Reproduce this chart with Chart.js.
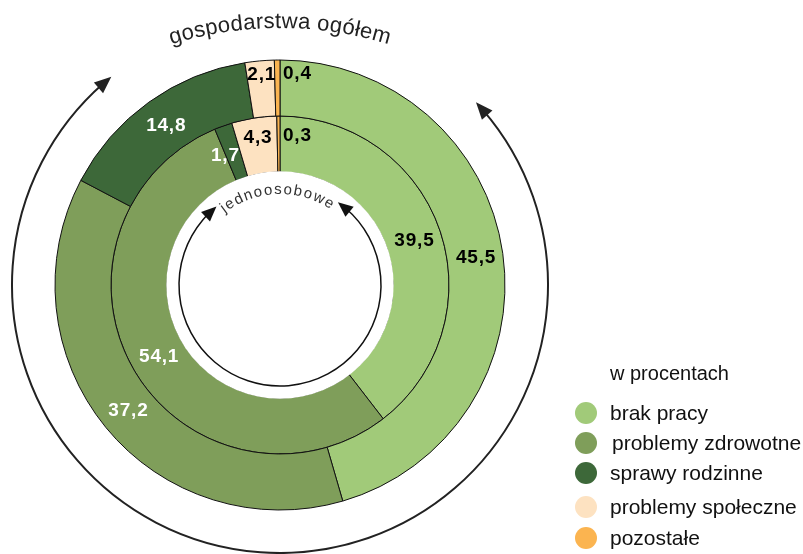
<!DOCTYPE html>
<html><head><meta charset="utf-8">
<script src="https://cdn.jsdelivr.net/npm/chart.js@4/dist/chart.umd.min.js"></script>
<style>html,body{margin:0;padding:0;background:#fff;overflow:hidden}</style>
</head><body><canvas id="c" width="803" height="554"></canvas>
<script>
// ---- data ----
const categories = ['brak pracy', 'problemy zdrowotne', 'sprawy rodzinne', 'problemy społeczne', 'pozostałe'];
const ogolemValues = [45.5, 37.2, 14.8, 2.1, 0.4];
const jednoosoboweValues = [39.5, 54.1, 1.7, 4.3, 0.3];
const seriesNames = ['gospodarstwa ogółem', 'jednoosobowe'];
const legendTitle = 'w procentach';

// ---- styles ----
const colors = ['#A1CA79', '#7F9E5A', '#3D6839', '#FDE2C1', '#FBB450'];
const labelColors = ['#000', '#fff', '#fff', '#000', '#000'];
const FONT = '"Liberation Sans", Arial, Helvetica, sans-serif';
const fmt = v => v.toFixed(1).replace('.', ',');
// radial nudges for small slices (px), 'side' = label placed beside the slice
const labelTweaks = { '0-3': { dr: 15 }, '0-4': { dr: 15, side: true }, '1-3': { dr: 9 }, '1-4': { dr: 9, side: true }, '1-2': { dr: 1, da: -0.06 } };

function curvedText(ctx, text, cx, cy, r, mid, font, spacing, color) {
  ctx.save();
  ctx.font = font; ctx.fillStyle = color; ctx.textAlign = 'center'; ctx.textBaseline = 'alphabetic';
  const chars = [...text];
  const w = chars.map(ch => ctx.measureText(ch).width);
  const total = w.reduce((a, b) => a + b, 0) + spacing * (chars.length - 1);
  let a = mid - total / 2 / r;
  chars.forEach((ch, i) => {
    const ac = a + w[i] / 2 / r;
    ctx.save();
    ctx.translate(cx + r * Math.sin(ac), cy - r * Math.cos(ac));
    ctx.rotate(ac);
    ctx.fillText(ch, 0, 0);
    ctx.restore();
    a += (w[i] + spacing) / r;
  });
  ctx.restore();
}

function arrowArc(ctx, cx, cy, r, a1, a2, lw, len, half, color) {
  // angles measured from top, clockwise (radians); arc goes clockwise from a1 to a2 (through bottom)
  ctx.save();
  ctx.strokeStyle = color; ctx.fillStyle = color; ctx.lineWidth = lw;
  const da = len / r;
  ctx.beginPath();
  ctx.arc(cx, cy, r, a1 + da * 0.6 - Math.PI / 2, a2 - da * 0.6 - Math.PI / 2, false);
  ctx.stroke();
  const head = (tipA, baseA) => {
    const tx = cx + r * Math.sin(tipA), ty = cy - r * Math.cos(tipA);
    const bx = cx + r * Math.sin(baseA), by = cy - r * Math.cos(baseA);
    const dx = tx - bx, dy = ty - by, L = Math.hypot(dx, dy);
    const ux = dx / L, uy = dy / L;
    const sx = bx - ux * (len - L), sy = by - uy * (len - L);
    ctx.beginPath();
    ctx.moveTo(tx, ty);
    ctx.lineTo(sx - uy * half, sy + ux * half);
    ctx.lineTo(sx + uy * half, sy - ux * half);
    ctx.closePath();
    ctx.fill();
  };
  head(a1, a1 + da);
  head(a2, a2 - da);
  ctx.restore();
}

const deg = d => d * Math.PI / 180;

const decorPlugin = {
  id: 'decor',
  afterDatasetsDraw(chart) {
    const ctx = chart.ctx;
    const arcOuter = chart.getDatasetMeta(0).data[0];
    const arcInner = chart.getDatasetMeta(1).data[0];
    const cx = arcOuter.x, cy = arcOuter.y;
    // clean hole (no border on inner edge of innermost ring)
    ctx.save();
    ctx.fillStyle = '#fff';
    ctx.beginPath(); ctx.arc(cx, cy, arcInner.innerRadius + 0.7, 0, Math.PI * 2); ctx.fill();
    ctx.restore();

    // value labels
    chart.data.datasets.forEach((ds, di) => {
      chart.getDatasetMeta(di).data.forEach((arc, i) => {
        const p = arc.getProps(['x', 'y', 'startAngle', 'endAngle', 'innerRadius', 'outerRadius'], true);
        const t = labelTweaks[di + '-' + i] || {};
        const r = (p.innerRadius + p.outerRadius) / 2 + (t.dr || 0);
        let ang = (p.startAngle + p.endAngle) / 2 + (t.da || 0);
        ctx.save();
        ctx.font = 'bold 19px ' + FONT;
        if ('letterSpacing' in ctx) ctx.letterSpacing = '0.8px';
        ctx.fillStyle = labelColors[i];
        ctx.textBaseline = 'middle';
        let x, y;
        if (t.side) {
          ang = p.endAngle;
          x = p.x + r * Math.cos(ang) + 3; y = p.y + r * Math.sin(ang);
          ctx.textAlign = 'left';
        } else {
          x = p.x + r * Math.cos(ang) + 1; y = p.y + r * Math.sin(ang);
          ctx.textAlign = 'center';
        }
        ctx.fillText(fmt(ds.data[i]), x, y + 1);
        ctx.restore();
      });
    });
  },
  afterDraw(chart) {
    const ctx = chart.ctx;
    const a0 = chart.getDatasetMeta(0).data[0];
    const cx = a0.x, cy = a0.y, R = a0.outerRadius;
    // outer arrows + title
    arrowArc(ctx, cx, cy, R + 43, deg(47), deg(321), 2, 17, 7, '#222');
    curvedText(ctx, seriesNames[0], cx, cy + 115, 372, 0, '22px ' + FONT, 0.3, '#222');
    // inner arrows + label
    arrowArc(ctx, cx, cy, 101, deg(35), deg(321), 1.5, 15, 6.5, '#111');
    curvedText(ctx, seriesNames[1], cx, cy, 91, deg(-2), '15px ' + FONT, 1.5, '#333');

    // legend
    const lx = 586, tx = 610;
    const rows = [413, 443, 473, 507, 538];
    ctx.save();
    ctx.fillStyle = '#111';
    ctx.textBaseline = 'middle';
    ctx.textAlign = 'left';
    ctx.font = '20px ' + FONT;
    ctx.fillText(legendTitle, tx, 374);
    ctx.font = '21px ' + FONT;
    categories.forEach((c, i) => {
      ctx.fillStyle = colors[i];
      ctx.beginPath(); ctx.arc(lx, rows[i], 11, 0, Math.PI * 2); ctx.fill();
      ctx.fillStyle = '#111';
      ctx.fillText(c, tx + (i === 1 ? 2 : 0), rows[i] + 1);
    });
    ctx.restore();
  }
};

new Chart(document.getElementById('c'), {
  type: 'doughnut',
  data: {
    labels: categories,
    datasets: [
      { label: seriesNames[0], data: ogolemValues, backgroundColor: colors, borderColor: '#111', borderWidth: 1 },
      { label: seriesNames[1], data: jednoosoboweValues, backgroundColor: colors, borderColor: '#111', borderWidth: 1 }
    ]
  },
  options: {
    responsive: false,
    animation: false,
    radius: 225,
    cutout: '50.2%',
    layout: { padding: { left: 0, right: 243, top: 16, bottom: 0 } },
    plugins: { legend: { display: false }, tooltip: { enabled: false } }
  },
  plugins: [decorPlugin]
});
</script>
</body></html>
